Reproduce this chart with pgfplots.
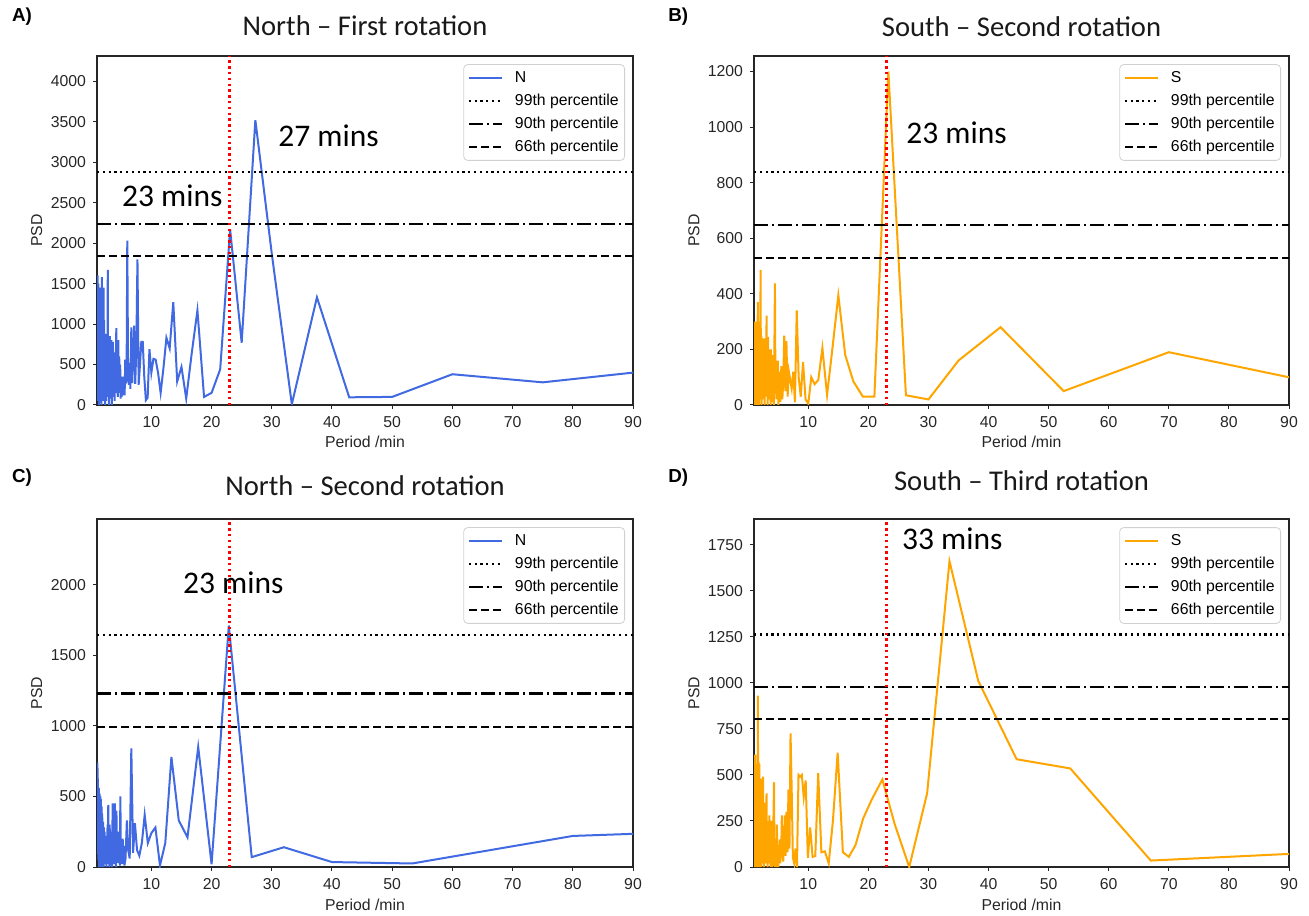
\documentclass[border=0pt]{standalone}
\usepackage{fontspec}
\setmainfont{Liberation Sans}
\newfontfamily\calib{Carlito}
\usepackage{pgfplots}
\pgfplotsset{compat=1.18}
\usepackage{pgfplotstable}

\definecolor{nblue}{RGB}{65,105,225}
\definecolor{sorange}{RGB}{255,165,0}

\pgfplotstableread{
x y
1.00 1450
1.03 200
1.06 1600
1.09 50
1.12 1300
1.15 300
1.18 1500
1.21 100
1.24 900
1.27 0
1.30 1350
1.33 400
1.36 1200
1.39 80
1.42 1450
1.45 250
1.48 1000
1.51 30
1.54 1420
1.57 500
1.60 1100
1.63 150
1.66 1300
1.69 0
1.72 1250
1.75 600
1.78 1580
1.81 100
1.84 1200
1.87 350
1.90 1450
1.93 50
1.96 900
2.00 200
2.05 1450
2.10 100
2.15 1050
2.20 400
2.25 800
2.30 0
2.35 880
2.40 300
2.45 750
2.50 50
2.55 600
2.60 250
2.65 850
2.70 100
2.76 1670
2.82 200
2.88 700
2.94 0
3.00 500
3.06 150
3.12 850
3.18 80
3.24 600
3.30 300
3.36 800
3.42 0
3.48 450
3.54 200
3.60 780
3.66 100
3.72 500
3.78 250
3.84 650
3.90 50
3.96 400
4.02 200
4.10 600
4.18 950
4.26 150
4.34 500
4.42 100
4.50 800
4.58 200
4.66 600
4.74 150
4.82 500
4.90 80
4.98 350
5.06 100
5.14 300
5.22 150
5.30 350
5.38 120
5.46 250
5.56 120
5.66 560
5.77 280
5.88 300
6.00 2030
6.12 560
6.25 250
6.38 520
6.52 200
6.67 960
6.82 270
6.98 620
7.14 980
7.32 260
7.50 700
7.69 1800
7.89 250
8.11 500
8.33 780
8.57 780
8.82 350
9.09 60
9.38 90
9.68 690
10.00 400
10.34 570
10.71 560
11.11 400
11.54 150
12.00 450
12.50 830
13.04 700
13.64 1270
14.29 290
15.00 470
15.79 80
16.67 620
17.65 1170
18.75 100
20.00 150
21.43 440
23.08 2170
25.00 770
27.27 3520
30.00 1870
33.33 10
37.50 1330
42.86 95
50.00 100
60.00 380
75.00 280
100.0 480
}\tA

\pgfplotstableread{
x y
1.00 300
1.03 50
1.06 200
1.09 0
1.12 280
1.15 100
1.18 250
1.21 20
1.24 300
1.27 150
1.30 280
1.33 30
1.36 220
1.39 100
1.42 300
1.45 0
1.48 180
1.51 250
1.54 60
1.57 200
1.60 370
1.63 10
1.66 240
1.69 120
1.72 300
1.75 40
1.78 180
1.81 0
1.84 230
1.87 90
1.90 200
1.93 20
1.96 280
2.00 50
2.06 486
2.12 80
2.18 250
2.24 0
2.30 240
2.36 100
2.42 200
2.48 20
2.54 180
2.60 60
2.66 240
2.72 0
2.78 150
2.84 90
2.90 200
2.96 30
3.06 322
3.12 60
3.18 150
3.24 0
3.30 245
3.36 80
3.42 160
3.48 20
3.54 200
3.60 70
3.66 140
3.72 0
3.78 200
3.84 50
3.90 120
3.96 10
4.02 180
4.10 60
4.18 100
4.26 0
4.34 150
4.45 438
4.54 40
4.62 160
4.70 20
4.78 120
4.86 50
4.94 160
5.02 0
5.10 100
5.18 40
5.26 120
5.34 10
5.42 80
5.52 140
5.68 20
5.83 80
6.00 250
6.18 50
6.36 230
6.56 30
6.77 120
7.00 90
7.24 60
7.50 120
7.78 10
8.08 340
8.40 100
8.75 30
9.13 155
9.55 20
10.00 5
10.50 100
11.05 75
11.67 90
12.35 205
13.125 36
14.00 200
15.00 395
16.15 180
17.50 85
19.09 30
21.00 30
23.33 1200
26.25 35
30.00 20
35.00 160
42.00 280
52.50 50
70.00 190
105.0 32
}\tB

\pgfplotstableread{
x y
1.00 400
1.03 740
1.06 100
1.09 700
1.12 200
1.15 560
1.18 50
1.21 540
1.24 150
1.27 560
1.30 0
1.33 500
1.36 200
1.39 520
1.42 80
1.45 480
1.48 250
1.51 500
1.54 0
1.57 450
1.60 150
1.63 480
1.66 60
1.69 420
1.72 200
1.75 430
1.78 0
1.81 380
1.84 120
1.87 350
1.90 30
1.93 300
1.96 180
2.00 320
2.06 0
2.12 280
2.18 100
2.24 250
2.30 20
2.36 200
2.42 90
2.48 220
2.54 0
2.60 180
2.66 60
2.72 300
2.78 20
2.84 440
2.90 80
2.96 150
3.02 0
3.08 300
3.14 60
3.20 200
3.26 10
3.32 150
3.38 80
3.44 250
3.50 0
3.56 450
3.62 100
3.68 200
3.74 20
3.80 350
3.86 80
3.92 450
3.98 40
4.04 120
4.12 0
4.20 400
4.28 60
4.36 150
4.44 30
4.52 250
4.60 80
4.68 100
4.76 10
4.85 500
4.94 50
5.04 150
5.14 20
5.24 200
5.34 60
5.44 150
5.52 10
5.71 60
5.93 330
6.15 120
6.40 60
6.67 840
6.96 100
7.27 310
7.62 120
8.00 80
8.42 170
8.89 370
9.41 170
10.00 240
10.67 280
11.43 10
12.31 170
13.33 780
14.55 330
16.00 210
17.78 850
20.00 20
22.86 1710
26.67 70
32.00 140
40.00 35
53.33 25
80.00 220
160.0 340
}\tC

\pgfplotstableread{
x y
1.00 610
1.03 100
1.06 600
1.09 0
1.12 550
1.15 200
1.18 610
1.21 50
1.24 400
1.27 250
1.30 560
1.33 0
1.36 450
1.39 150
1.42 500
1.45 50
1.48 300
1.51 100
1.54 450
1.57 0
1.62 930
1.66 150
1.69 400
1.72 20
1.75 570
1.78 200
1.81 480
1.84 0
1.87 560
1.90 100
1.93 350
1.96 30
2.00 480
2.06 150
2.12 400
2.18 0
2.24 480
2.30 80
2.36 300
2.42 20
2.48 490
2.54 120
2.60 250
2.66 0
2.72 350
2.78 100
2.84 200
2.90 20
2.96 300
3.06 400
3.12 50
3.18 200
3.24 0
3.30 250
3.36 80
3.42 150
3.48 20
3.54 280
3.60 60
3.66 130
3.72 0
3.78 200
3.84 50
3.90 250
3.96 0
4.04 150
4.12 30
4.20 250
4.30 460
4.38 0
4.46 120
4.54 30
4.62 100
4.70 0
4.78 230
4.86 20
4.94 120
5.02 0
5.10 100
5.18 30
5.26 150
5.34 20
5.42 120
5.50 80
5.60 280
5.72 60
5.83 30
5.96 120
6.09 280
6.23 60
6.38 300
6.54 80
6.70 420
6.87 100
7.05 725
7.24 420
7.44 50
7.66 20
7.88 100
8.12 0
8.375 500
8.65 490
8.93 500
9.24 380
9.57 470
9.93 50
10.31 215
10.72 55
11.17 60
11.65 510
12.18 80
12.76 85
13.40 20
14.10 250
14.89 620
15.76 80
16.75 55
17.87 120
19.14 264
20.62 370
22.33 475
24.36 235
26.80 0
29.78 400
33.50 1660
38.29 1010
44.67 585
53.60 535
67.00 35
89.33 70
134.0 75
}\tD

\pgfplotsset{
  psd/.style={
    scale only axis,
    anchor=south west,
    xmin=0.97, xmax=90, ymin=0,
    xtick={10,20,...,90},
    tick align=outside,
    xtick pos=left, ytick pos=left,
    major tick length=2pt,
    every tick/.style={black!85, line width=0.5pt},
    axis line style={black!85, line width=0.6pt},
    ticklabel style={font=\fontsize{7.9}{9}\selectfont, text=black!85},
    /pgf/number format/assume math mode=true,
    /pgf/number format/1000 sep={},
    scaled y ticks=false,
    xlabel={Period /min}, ylabel={PSD},
    label style={font=\fontsize{7.9}{9}\selectfont, text=black!85},
    xlabel style={at={(axis description cs:0.5,0)}, anchor=base, yshift=-21.5pt},
    ylabel style={at={(axis description cs:-0.1125,0.5)}, anchor=center},
    legend cell align=left,
    legend image code/.code={\draw[##1] (0pt,0pt) -- (16.5pt,0pt);},
    legend style={
      at={(1,1)}, anchor=north east, xshift=-4pt, yshift=-4.1pt,
      draw=black!18, rounded corners=2pt, fill=white,
      font=\fontsize{7.9}{9}\selectfont,
      inner xsep=2pt, inner ysep=2pt,
      row sep=2.1pt,
      nodes={inner sep=1pt, text height=5.8pt, text depth=1.6pt},
      /tikz/every odd column/.append style={column sep=5pt},
    },
  },
  p99/.style={black, line width=1.15pt, dash pattern=on 1.1pt off 1.8pt},
  p90/.style={black, line width=1.15pt, dash pattern=on 7.2pt off 1.8pt on 1.2pt off 1.8pt},
  p66/.style={black, line width=1.15pt, dash pattern=on 4.2pt off 1.8pt},
  redv/.style={red, line width=1.3pt, dash pattern=on 1.2pt off 1.7pt, forget plot},
}

\begin{document}
\begin{tikzpicture}
\useasboundingbox (0,0) rectangle (654.5pt,457.5pt);

% A
\begin{axis}[psd, at={(48.5pt,255pt)}, width=268pt, height=174.5pt,
  ymax=4312, ytick={0,500,...,4000}]
\addplot[nblue, line width=1pt] table {\tA};
\addlegendentry{N}
\addplot[p99] coordinates {(0.97,2880) (90,2880)};
\addlegendentry{99th percentile}
\addplot[p90] coordinates {(0.97,2235) (90,2235)};
\addlegendentry{90th percentile}
\addplot[p66] coordinates {(0.97,1840) (90,1840)};
\addlegendentry{66th percentile}
\addplot[redv] coordinates {(23,0) (23,4312)};
\end{axis}

% B
\begin{axis}[psd, at={(377pt,255pt)}, width=267.5pt, height=174.5pt,
  ymax=1256, ytick={0,200,...,1200}]
\addplot[sorange, line width=1pt] table {\tB};
\addlegendentry{S}
\addplot[p99] coordinates {(0.97,838) (90,838)};
\addlegendentry{99th percentile}
\addplot[p90] coordinates {(0.97,648) (90,648)};
\addlegendentry{90th percentile}
\addplot[p66] coordinates {(0.97,528) (90,528)};
\addlegendentry{66th percentile}
\addplot[redv] coordinates {(23,0) (23,1256)};
\end{axis}

% C
\begin{axis}[psd, at={(48.5pt,24pt)}, width=268pt, height=174pt,
  ymax=2465, ytick={0,500,...,2000}]
\addplot[nblue, line width=1pt] table {\tC};
\addlegendentry{N}
\addplot[p99] coordinates {(0.97,1645) (90,1645)};
\addlegendentry{99th percentile}
\addplot[p90] coordinates {(0.97,1228) (90,1228)};
\addlegendentry{90th percentile}
\addplot[p66] coordinates {(0.97,992) (90,992)};
\addlegendentry{66th percentile}
\addplot[redv] coordinates {(23,0) (23,2465)};
\end{axis}

% D
\begin{axis}[psd, at={(377pt,24pt)}, width=267.5pt, height=174pt,
  ymax=1889, ytick={0,250,...,1750}]
\addplot[sorange, line width=1pt] table {\tD};
\addlegendentry{S}
\addplot[p99] coordinates {(0.97,1262) (90,1262)};
\addlegendentry{99th percentile}
\addplot[p90] coordinates {(0.97,978) (90,978)};
\addlegendentry{90th percentile}
\addplot[p66] coordinates {(0.97,804) (90,804)};
\addlegendentry{66th percentile}
\addplot[redv] coordinates {(23,0) (23,1889)};
\end{axis}

% titles
\begin{scope}[every node/.style={inner sep=0pt, font=\calib\fontsize{14.3}{16}\selectfont, text=black!90}]
\node[anchor=base] at (182.5pt,439.5pt) {North – First rotation};
\node[anchor=base] at (510.75pt,439pt) {South – Second rotation};
\node[anchor=base] at (182.5pt,209.5pt) {North – Second rotation};
\node[anchor=base] at (510.75pt,212.2pt) {South – Third rotation};
\end{scope}

% panel labels
\begin{scope}[every node/.style={inner sep=0pt, anchor=base west, font=\bfseries\fontsize{9.4}{11}\selectfont}]
\node at (5.85pt,446.65pt) {A)};
\node at (334pt,446.65pt) {B)};
\node at (5.85pt,216pt) {C)};
\node at (334pt,216pt) {D)};
\end{scope}

% annotations
\begin{scope}[every node/.style={inner sep=0pt, anchor=base west, font=\calib\fontsize{15.75}{18}\selectfont}]
\node at (139pt,384.15pt) {27 mins};
\node at (60.85pt,354.15pt) {23 mins};
\node at (453pt,385.5pt) {23 mins};
\node at (91.35pt,160.5pt) {23 mins};
\node at (450.85pt,182.85pt) {33 mins};
\end{scope}
\end{tikzpicture}
\end{document}
